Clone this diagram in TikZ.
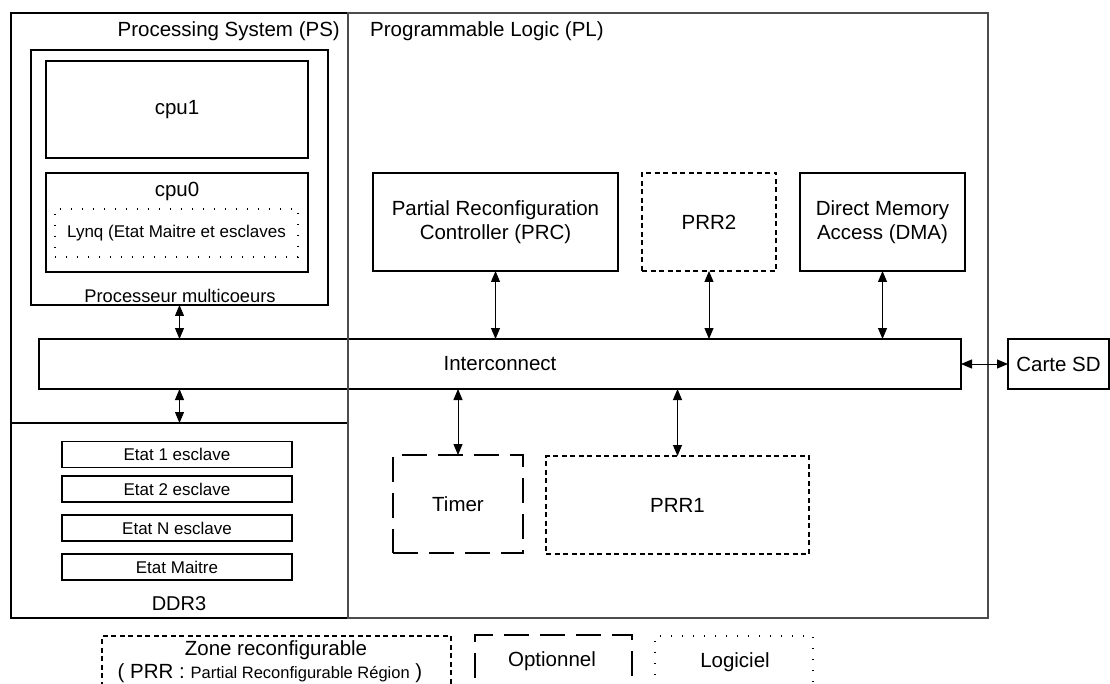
\documentclass[tikz,border=0pt]{standalone}
\usepackage{fontspec}
\setmainfont{Liberation Sans}
\usepackage{xcolor}
\usepackage{tikz}
\usetikzlibrary{arrows.meta, positioning}

\newcommand{\mainsize}{\fontsize{20.5}{24}\selectfont}
\newcommand{\multisize}{\fontsize{18.3}{22}\selectfont}
\newcommand{\statesize}{\fontsize{17}{20}\selectfont}
\newcommand{\notesize}{\fontsize{16.5}{19}\selectfont}

\begin{document}
\begin{tikzpicture}[x=1pt, y=-1pt,
    box/.style={rectangle, draw=black, line width=1.2pt, outer sep=0pt, inner sep=2pt,
                align=center, font=\mainsize},
    zonebox/.style={box, dash pattern=on 5pt off 3.5pt},
    optbox/.style={box, dash pattern=on 25pt off 11pt},
    softbox/.style={box, line width=1.3pt, dash pattern=on 1.3pt off 9.7pt},
    statebox/.style={box, minimum width=230pt, minimum height=26pt, font=\statesize},
    title/.style={inner sep=0pt, font=\mainsize},
    biarrow/.style={{Triangle[length=11pt,width=9pt]}-{Triangle[length=11pt,width=9pt]},
                    line width=1pt}]

\useasboundingbox (0,0) rectangle (1110,684);

% Processing System
\node[box, minimum width=337pt, minimum height=605pt] (ps) at (179.5,315.5) {};
\node[box, minimum width=337pt, minimum height=195pt] (ddr) at (179.5,520.5) {};
\node[title, anchor=east] (pstitle) at (340,31) {Processing System (PS)};

\node[box, minimum width=297pt, minimum height=255pt] (multi) at (179.5,177.5) {};
\node[title, font=\multisize] (multitxt) at (180,296) {Processeur multicoeurs};
\node[box, minimum width=262pt, minimum height=97pt] (cpu1) at (177,109.5) {cpu1};
\node[box, minimum width=262pt, minimum height=99pt] (cpu0) at (177,222.5) {};
\node[title] (cpu0txt) at (177,191) {cpu0};
\node[softbox, minimum width=243pt, minimum height=48pt, font=\statesize] (lynq) at (176.5,233)
    {Lynq (Etat Maitre et esclaves};

\node[statebox] (etat1) at (177,454.5) {Etat 1 esclave};
\node[statebox] (etat2) at (177,489) {Etat 2 esclave};
\node[statebox] (etatn) at (177,528) {Etat N esclave};
\node[statebox] (maitre) at (177,567) {Etat Maitre};
\node[title, font=\fontsize{20}{24}\selectfont] (ddrtxt) at (179,604) {DDR3};

% Interconnect
\node[box, minimum width=922pt, minimum height=50pt] (ic) at (500,364) {Interconnect};
\node[box, minimum width=101pt, minimum height=50pt] (sd) at (1058.5,364) {Carte SD};

% Programmable Logic
\node[box, draw=black!70, minimum width=640pt, minimum height=605pt] (pl) at (668,315.5) {};
\node[title, anchor=west] (pltitle) at (370,31) {Programmable Logic (PL)};

\node[box, minimum width=245pt, minimum height=98pt] (prc) at (495.5,222)
    {Partial Reconfiguration\\Controller (PRC)};
\node[zonebox, minimum width=134pt, minimum height=98pt] (prr2) at (709,222) {PRR2};
\node[box, minimum width=165pt, minimum height=98pt] (dma) at (882.5,222)
    {Direct Memory\\Access (DMA)};
\node[optbox, minimum width=130pt, minimum height=98pt] (timer) at (458,504) {Timer};
\node[zonebox, minimum width=263pt, minimum height=98pt] (prr1) at (677.5,505) {PRR1};

\draw[biarrow] (multi.south) -- (multi.south |- ic.north);
\draw[biarrow] (ic.south -| ddr.north) -- (ddr.north);
\draw[biarrow] (prc.south) -- (prc.south |- ic.north);
\draw[biarrow] (prr2.south) -- (prr2.south |- ic.north);
\draw[biarrow] (dma.south) -- (dma.south |- ic.north);
\draw[biarrow] (timer.north |- ic.south) -- (timer.north);
\draw[biarrow] (prr1.north |- ic.south) -- (prr1.north);
\draw[biarrow] (ic.east) -- (sd.west);

% legend
\node[zonebox, anchor=north, minimum width=349pt, minimum height=64pt] (zone) at (276.5,636) {};
\node[title] (zonetxt) at (276,650) {Zone reconfigurable};
\node[title] (prrtxt) at (270,673) {( PRR : {\notesize Partial Reconfigurable Région} )};
\node[optbox, anchor=north, minimum width=157pt, minimum height=64pt] (optn) at (553.5,635) {};
\node[title] (opttxt) at (552,661) {Optionnel};
\node[softbox, anchor=north, minimum width=158pt, minimum height=64pt] (logi) at (734,636) {};
\node[title] (logitxt) at (735,662) {Logiciel};
\end{tikzpicture}
\end{document}
